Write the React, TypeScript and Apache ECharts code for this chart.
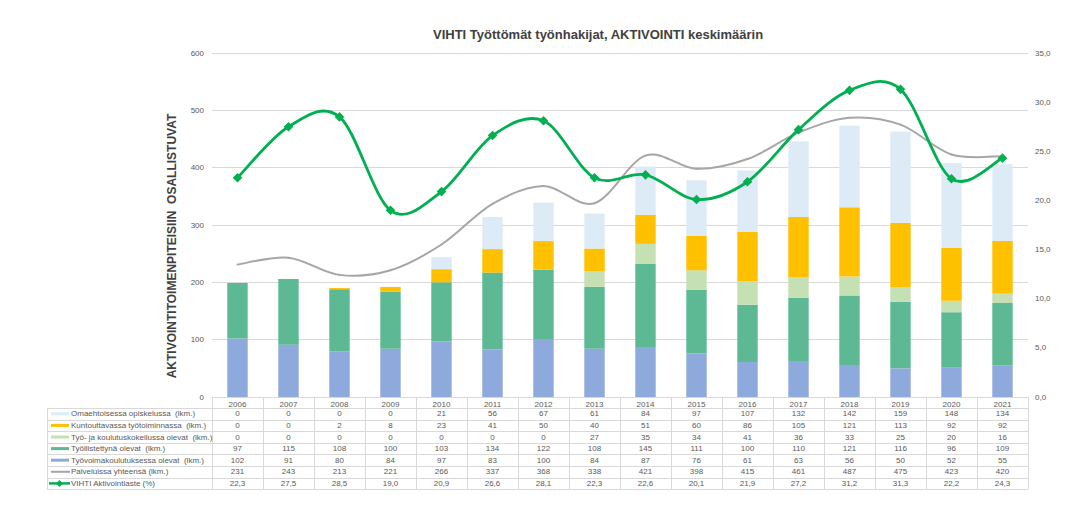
import React, { useEffect, useRef } from "react";
import * as echarts from "echarts";

const years = ["2006","2007","2008","2009","2010","2011","2012","2013","2014","2015","2016","2017","2018","2019","2020","2021"];
const omaehtoinen = [0,0,0,0,21,56,67,61,84,97,107,132,142,159,148,134];
const kuntouttava = [0,0,2,8,23,41,50,40,51,60,86,105,121,113,92,92];
const kokeilu = [0,0,0,0,0,0,0,27,35,34,41,36,33,25,20,16];
const tyollistetty = [97,115,108,100,103,134,122,108,145,111,100,110,121,116,96,109];
const koulutus = [102,91,80,84,97,83,100,84,87,76,61,63,56,50,52,55];
const yhteensa = [231,243,213,221,266,337,368,338,421,398,415,461,487,475,423,420];
const aste = [22.3,27.5,28.5,19.0,20.9,26.6,28.1,22.3,22.6,20.1,21.9,27.2,31.2,31.3,22.2,24.3];

const leftTicks = { min: 0, max: 600, interval: 100 };
const rightTicks = { min: 0, max: 35, interval: 5 };

const names = {
  oma: "Omaehtoisessa opiskelussa  (lkm.)",
  kunt: "Kuntouttavassa työtoiminnassa  (lkm.)",
  kok: "Työ- ja koulutuskokeilussa olevat  (lkm.)",
  tyol: "Työllistettynä olevat  (lkm.)",
  koul: "Työvoimakoulutuksessa olevat  (lkm.)",
  yht: "Palveluissa yhteensä (lkm.)",
  aste: "VIHTI Aktivointiaste (%)",
};

const colors = {
  oma: "#DDEBF7",
  kunt: "#FFC000",
  kok: "#C5E0B3",
  tyol: "#5CB994",
  koul: "#8EA9DB",
  yht: "#A6A6A6",
  aste: "#00B050",
};

const W = 1081;
const H = 516;
const GL = 212;
const GR = 53;
const GT = 53;
const GB = 119;
const FONT = "'Liberation Sans', Arial, sans-serif";
const TXT = "#595959";
const LINE = "#D9D9D9";

const fmtComma = (v: number) => v.toFixed(1).replace(".", ",");

// Excel-like smooth line (Catmull-Rom segments) drawn via custom series using axis coordinates
function smoothSeries(name: string, values: number[], color: string, width: number, yAxisIndex: number, marker: boolean, z: number) {
  return {
    name,
    type: "custom",
    yAxisIndex,
    z,
    data: values.map((v, i) => [i, v]),
    encode: { x: 0, y: 1 },
    renderItem: (params: any, api: any) => {
      const i = params.dataIndex;
      const n = values.length;
      const P = (k: number) => {
        const kk = Math.max(0, Math.min(n - 1, k));
        return api.coord([kk, values[kk]]);
      };
      const children: any[] = [];
      if (i < n - 1) {
        const p0 = P(i - 1), p1 = P(i), p2 = P(i + 1), p3 = P(i + 2);
        children.push({
          type: "bezierCurve",
          shape: {
            x1: p1[0], y1: p1[1],
            cpx1: p1[0] + (p2[0] - p0[0]) / 6, cpy1: p1[1] + (p2[1] - p0[1]) / 6,
            cpx2: p2[0] - (p3[0] - p1[0]) / 6, cpy2: p2[1] - (p3[1] - p1[1]) / 6,
            x2: p2[0], y2: p2[1],
          },
          style: { stroke: color, lineWidth: width, fill: "none", lineCap: "round" },
        });
      }
      if (marker) {
        const c = P(i);
        const s = 4.8;
        children.push({
          type: "polygon",
          shape: { points: [[c[0], c[1] - s], [c[0] + s, c[1]], [c[0], c[1] + s], [c[0] - s, c[1]]] },
          style: { fill: color },
        });
      }
      return { type: "group", children };
    },
  };
}

export default function App() {
  const ref = useRef<HTMLDivElement>(null);
  useEffect(() => {
    document.body.style.margin = "0";
    if (!ref.current) return;
    const chart = echarts.init(ref.current, null, { renderer: "svg" });

    const plotW = W - GL - GR;
    const colW = plotW / years.length;
    const axisY = H - GB;
    const tableTop = axisY + 11;
    const tableLeft = 47;
    const rowH = 11.6;

    const rows = [
      { key: "oma", vals: omaehtoinen.map(String), kind: "rect" },
      { key: "kunt", vals: kuntouttava.map(String), kind: "rect" },
      { key: "kok", vals: kokeilu.map(String), kind: "rect" },
      { key: "tyol", vals: tyollistetty.map(String), kind: "rect" },
      { key: "koul", vals: koulutus.map(String), kind: "rect" },
      { key: "yht", vals: yhteensa.map(String), kind: "line" },
      { key: "aste", vals: aste.map(fmtComma), kind: "marker" },
    ];

    const graphic: any[] = [];
    const tableBottom = tableTop + rows.length * rowH;
    for (let r = 0; r <= rows.length; r++) {
      const y = Math.round(tableTop + r * rowH) + 0.5;
      graphic.push({ type: "line", silent: true, shape: { x1: tableLeft, y1: y, x2: GL + plotW, y2: y }, style: { stroke: LINE, lineWidth: 1 } });
    }
    graphic.push({ type: "line", silent: true, shape: { x1: tableLeft + 0.5, y1: tableTop, x2: tableLeft + 0.5, y2: tableBottom }, style: { stroke: LINE, lineWidth: 1 } });
    for (let c = 0; c <= years.length; c++) {
      const x = Math.round(GL + c * colW) + 0.5;
      graphic.push({ type: "line", silent: true, shape: { x1: x, y1: axisY, x2: x, y2: tableBottom }, style: { stroke: LINE, lineWidth: 1 } });
    }
    rows.forEach((row, r) => {
      const cy = tableTop + (r + 0.5) * rowH;
      const col = (colors as any)[row.key];
      if (row.kind === "rect") {
        graphic.push({ type: "rect", silent: true, shape: { x: 51, y: cy - 1.5, width: 18, height: 3 }, style: { fill: col } });
      } else if (row.kind === "line") {
        graphic.push({ type: "line", silent: true, shape: { x1: 51, y1: cy, x2: 70, y2: cy }, style: { stroke: col, lineWidth: 2 } });
      } else {
        graphic.push({ type: "line", silent: true, shape: { x1: 49, y1: cy, x2: 70, y2: cy }, style: { stroke: col, lineWidth: 2.5 } });
        graphic.push({ type: "polygon", silent: true, shape: { points: [[59.5, cy - 3.5], [63, cy], [59.5, cy + 3.5], [56, cy]] }, style: { fill: col } });
      }
      graphic.push({ type: "text", silent: true, x: 71, y: cy, style: { text: (names as any)[row.key], fill: TXT, font: `8px ${FONT}`, textAlign: "left", textVerticalAlign: "middle" } });
      row.vals.forEach((v, c) => {
        graphic.push({ type: "text", silent: true, x: GL + (c + 0.5) * colW, y: cy, style: { text: v, fill: TXT, font: `8px ${FONT}`, textAlign: "center", textVerticalAlign: "middle" } });
      });
    });
    graphic.push({
      type: "text", silent: true, x: 172, y: 246, rotation: Math.PI / 2,
      style: { text: "AKTIVOINTITOIMENPITEISIIN  OSALLISTUVAT", fill: "#404040", font: `bold 12px ${FONT}`, textAlign: "center", textVerticalAlign: "middle" },
    });

    const bar = (key: string, data: number[]) => ({
      name: (names as any)[key],
      type: "bar",
      stack: "total",
      barWidth: "40%",
      data,
      itemStyle: { color: (colors as any)[key] },
    });

    chart.setOption({
      animation: false,
      backgroundColor: "#ffffff",
      title: {
        text: "VIHTI Työttömät työnhakijat, AKTIVOINTI keskimäärin",
        left: 428,
        top: 23,
        textStyle: { fontFamily: FONT, fontSize: 13, fontWeight: "bold", color: "#404040" },
      },
      grid: { left: GL, right: GR, top: GT, bottom: GB },
      xAxis: {
        type: "category",
        data: years,
        axisLine: { lineStyle: { color: LINE } },
        axisTick: { show: false },
        axisLabel: { color: TXT, fontFamily: FONT, fontSize: 8, margin: 3 },
      },
      yAxis: [
        {
          type: "value",
          ...leftTicks,
          axisLabel: { color: TXT, fontFamily: FONT, fontSize: 8, margin: 8 },
          splitLine: { lineStyle: { color: LINE } },
          axisLine: { show: false },
          axisTick: { show: false },
        },
        {
          type: "value",
          ...rightTicks,
          position: "right",
          axisLabel: { color: TXT, fontFamily: FONT, fontSize: 8, margin: 7, formatter: (v: number) => fmtComma(v) },
          splitLine: { show: false },
          axisLine: { show: false },
          axisTick: { show: false },
        },
      ],
      graphic,
      series: [
        bar("koul", koulutus),
        bar("tyol", tyollistetty),
        bar("kok", kokeilu),
        bar("kunt", kuntouttava),
        bar("oma", omaehtoinen),
        smoothSeries(names.yht, yhteensa, colors.yht, 2, 0, false, 3),
        smoothSeries(names.aste, aste, colors.aste, 2.8, 1, true, 4),
      ],
    });
    return () => chart.dispose();
  }, []);
  return <div ref={ref} style={{ width: W, height: H }} />;
}
